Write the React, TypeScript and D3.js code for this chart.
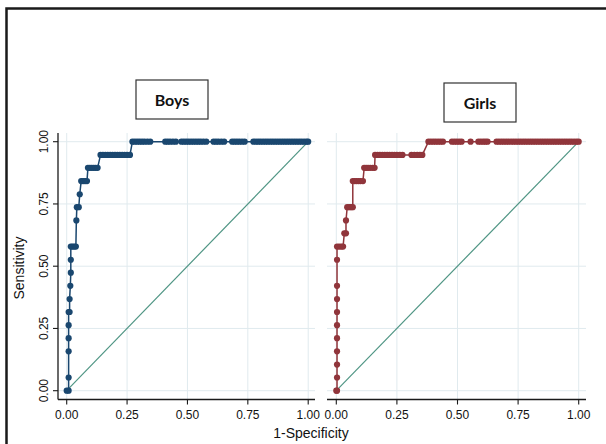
import * as d3 from 'd3';

// ROC points (1-specificity, sensitivity)
const boysFpr = [
  0, 0.008, 0.008, 0.008, 0.008, 0.008, 0.008, 0.012, 0.012, 0.015, 0.017, 0.017,
  0.017, 0.024, 0.031, 0.038, 0.040, 0.042, 0.050, 0.054,
  0.060, 0.068, 0.076, 0.084,
  0.088, 0.096, 0.104, 0.112, 0.120, 0.128,
  0.140, 0.150, 0.160, 0.170, 0.180, 0.190, 0.200, 0.210, 0.220, 0.230, 0.240, 0.250, 0.262,
  0.272, 0.282, 0.292, 0.302, 0.312, 0.322, 0.334, 0.346,
  0.408, 0.418, 0.428, 0.440, 0.452, 0.475, 0.485, 0.495, 0.505, 0.515, 0.525, 0.535, 0.545,
  0.555, 0.566, 0.578, 0.608, 0.618, 0.628, 0.640, 0.652, 0.685, 0.695, 0.705, 0.715, 0.726,
  0.737, 0.773, 0.783, 0.793, 0.803, 0.813, 0.823, 0.833, 0.843, 0.853, 0.863, 0.873, 0.883,
  0.893, 0.903, 0.913, 0.923, 0.933, 0.943, 0.953, 0.963, 0.973, 0.983, 0.993, 1.0,
];
const boysTpr = [
  0, 0, 0.053, 0.158, 0.211, 0.263, 0.316, 0.316, 0.368, 0.421, 0.474, 0.526,
  0.579, 0.579, 0.579, 0.579, 0.684, 0.737, 0.737, 0.789,
  0.842, 0.842, 0.842, 0.842,
  0.895, 0.895, 0.895, 0.895, 0.895, 0.895,
  0.947, 0.947, 0.947, 0.947, 0.947, 0.947, 0.947, 0.947, 0.947, 0.947, 0.947, 0.947, 0.947,
  1, 1, 1, 1, 1, 1, 1, 1,
  1, 1, 1, 1, 1, 1, 1, 1, 1, 1, 1, 1, 1,
  1, 1, 1, 1, 1, 1, 1, 1, 1, 1, 1, 1, 1,
  1, 1, 1, 1, 1, 1, 1, 1, 1, 1, 1, 1, 1,
  1, 1, 1, 1, 1, 1, 1, 1, 1, 1, 1, 1,
];

const girlsFpr = [
  0, 0.003, 0.003, 0.003, 0.003, 0.003, 0.003, 0.003, 0.003, 0.003, 0.003,
  0.003, 0.012, 0.021, 0.028, 0.033, 0.040, 0.040,
  0.045, 0.053, 0.061, 0.068,
  0.068, 0.076, 0.084, 0.092, 0.100, 0.110,
  0.115, 0.123, 0.131, 0.140, 0.150, 0.158,
  0.160, 0.170, 0.180, 0.190, 0.200, 0.210, 0.220, 0.230, 0.240, 0.250, 0.262, 0.273,
  0.310, 0.322, 0.334, 0.345, 0.355,
  0.380, 0.390, 0.400, 0.410, 0.420, 0.430, 0.440, 0.477, 0.487, 0.497, 0.507, 0.517,
  0.554, 0.586, 0.596, 0.606, 0.615, 0.624, 0.661, 0.671, 0.681, 0.691, 0.701, 0.711,
  0.721, 0.731, 0.741, 0.751, 0.761, 0.771, 0.781, 0.791, 0.801, 0.811, 0.821, 0.831,
  0.841, 0.851, 0.861, 0.871, 0.881, 0.891, 0.901, 0.911, 0.921, 0.931, 0.941, 0.951,
  0.961, 0.971, 0.981, 0.991, 1.0,
];
const girlsTpr = [
  0, 0, 0.053, 0.105, 0.158, 0.211, 0.263, 0.316, 0.368, 0.421, 0.526,
  0.579, 0.579, 0.579, 0.579, 0.632, 0.632, 0.684,
  0.737, 0.737, 0.737, 0.737,
  0.842, 0.842, 0.842, 0.842, 0.842, 0.842,
  0.895, 0.895, 0.895, 0.895, 0.895, 0.895,
  0.947, 0.947, 0.947, 0.947, 0.947, 0.947, 0.947, 0.947, 0.947, 0.947, 0.947, 0.947,
  0.947, 0.947, 0.947, 0.947, 0.947,
  1, 1, 1, 1, 1, 1, 1, 1, 1, 1, 1, 1,
  1, 1, 1, 1, 1, 1, 1, 1, 1, 1, 1, 1,
  1, 1, 1, 1, 1, 1, 1, 1, 1, 1, 1, 1,
  1, 1, 1, 1, 1, 1, 1, 1, 1, 1, 1, 1,
  1, 1, 1, 1, 1,
];

const tickValues = [0, 0.25, 0.5, 0.75, 1];
const tickLabels = ['0.00', '0.25', '0.50', '0.75', '1.00'];

const W = 606;
const H = 444;
const axisY = 399.5;
const gridColor = '#e0eaee';
const refColor = '#4f9584';
const font = '"Liberation Sans", Arial, sans-serif';

const y = d3.scaleLinear().domain([0, 1]).range([390.7, 141.7]);

type PanelProps = {
  fpr: number[];
  tpr: number[];
  color: string;
  x0: number;
  x1: number;
  left: number;
  right: number;
  title: string;
  box: [number, number];
  showY: boolean;
};

const Panel = ({ fpr, tpr, color, x0, x1, left, right, title, box, showY }: PanelProps) => {
  const x = d3.scaleLinear().domain([0, 1]).range([x0, x1]);
  const pts = fpr.map((f, i) => [f, tpr[i]] as [number, number]);
  const line = d3
    .line<[number, number]>()
    .x((d) => x(d[0]))
    .y((d) => y(d[1]));
  const top = 133;

  return (
    <g>
      {/* title box */}
      <rect x={box[0]} y={box[1]} width={72} height={39} fill="#fff" stroke="#333" strokeWidth={1.2} />
      <text
        x={box[0] + 36}
        y={box[1] + 25.5}
        textAnchor="middle"
        fontFamily="Lato, 'Open Sans', sans-serif"
        fontWeight="bold"
        fontSize={16}
        fill="#111"
      >
        {title}
      </text>

      {/* grid */}
      {tickValues.map((t) => (
        <line key={'gx' + t} x1={x(t)} x2={x(t)} y1={top} y2={axisY} stroke={gridColor} strokeWidth={1} />
      ))}
      {tickValues.map((t) => (
        <line key={'gy' + t} x1={left} x2={right} y1={y(t)} y2={y(t)} stroke={gridColor} strokeWidth={1} />
      ))}

      {/* reference diagonal */}
      <line x1={x(0)} y1={y(0)} x2={x(1)} y2={y(1)} stroke={refColor} strokeWidth={1.2} />

      {/* roc curve */}
      <path d={line(pts) ?? ''} fill="none" stroke={color} strokeWidth={1.5} />
      {pts.map((d, i) => (
        <circle key={i} cx={x(d[0])} cy={y(d[1])} r={3.1} fill={color} />
      ))}

      {/* x axis */}
      <line x1={left} x2={right} y1={axisY} y2={axisY} stroke="#1a1a1a" strokeWidth={1.3} />
      {tickValues.map((t, i) => (
        <g key={'tx' + t}>
          <line x1={x(t)} x2={x(t)} y1={axisY} y2={axisY + 5} stroke="#1a1a1a" strokeWidth={1.1} />
          <text x={x(t)} y={axisY + 19.5} textAnchor="middle" fontFamily={font} fontSize={12} fill="#111">
            {tickLabels[i]}
          </text>
        </g>
      ))}

      {/* y axis */}
      {showY && (
        <g>
          <line x1={left} x2={left} y1={top} y2={axisY} stroke="#1a1a1a" strokeWidth={1.3} />
          {tickValues.map((t, i) => (
            <g key={'ty' + t}>
              <line x1={left - 5} x2={left} y1={y(t)} y2={y(t)} stroke="#1a1a1a" strokeWidth={1.1} />
              <text
                transform={`translate(${left - 14.5},${y(t)}) rotate(-90)`}
                textAnchor="middle"
                dy="0.35em"
                fontFamily={font}
                fontSize={12}
                fill="#111"
              >
                {tickLabels[i]}
              </text>
            </g>
          ))}
        </g>
      )}
    </g>
  );
};

export default function App() {
  return (
    <svg
      width={W}
      height={H}
      style={{ position: 'absolute', left: 0, top: 0, background: '#fff' }}
    >
      <rect width={W} height={H} fill="#fff" />
      {/* outer frame */}
      <path d={`M6.5,${H} V8.5 H${W}`} fill="none" stroke="#1a1a1a" strokeWidth={2.5} />

      <Panel
        fpr={boysFpr}
        tpr={boysTpr}
        color="#1a476f"
        x0={66.7}
        x1={308.2}
        left={58}
        right={315}
        title="Boys"
        box={[136, 80]}
        showY
      />
      <Panel
        fpr={girlsFpr}
        tpr={girlsTpr}
        color="#90353b"
        x0={336.3}
        x1={578.7}
        left={327}
        right={586}
        title="Girls"
        box={[444, 83]}
        showY={false}
      />

      <text
        transform="translate(19,268) rotate(-90)"
        textAnchor="middle"
        dy="0.35em"
        fontFamily={font}
        fontSize={14}
        fill="#111"
      >
        Sensitivity
      </text>
      <text x={311} y={438} textAnchor="middle" fontFamily={font} fontSize={14} fill="#111">
        1-Specificity
      </text>
    </svg>
  );
}
